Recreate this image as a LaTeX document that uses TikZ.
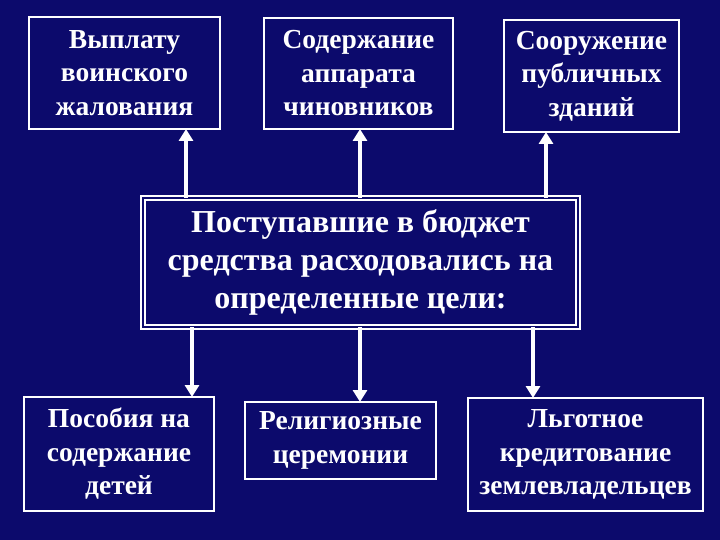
\documentclass[tikz,border=0pt]{standalone}
\usepackage{fontspec}
\setmainfont{Liberation Serif}
\usetikzlibrary{arrows.meta}
\definecolor{navy}{RGB}{12,10,108}
\tikzset{
  box/.style={draw=white, line width=2.6pt, fill=navy, text=white, align=center,
    font=\fontsize{27.5}{33.5}\selectfont\bfseries, inner sep=0pt, outer sep=0pt},
  mainbox/.style={draw=white, line width=1.6pt, double=navy, double distance=2.4pt,
    fill=navy, text=white, align=center,
    font=\fontsize{32}{38}\selectfont\bfseries, inner sep=0pt, outer sep=0pt},
  arr/.style={white, line width=4pt, -{Triangle[width=14pt,length=12pt]}}
}
\begin{document}
\begin{tikzpicture}[x=1pt,y=-1pt]
\fill[navy] (0,0) rectangle (720,540);
\useasboundingbox (0,0) rectangle (720,540);

\node[box, minimum width=191pt, minimum height=112pt] (t1) at (124.5,73) {Выплату\\воинского\\жалования};
\node[box, minimum width=189pt, minimum height=111pt] (t2) at (358.5,73.5) {Содержание\\аппарата\\чиновников};
\node[box, minimum width=175pt, minimum height=112pt] (t3) at (591.5,76) {Сооружение\\публичных\\зданий};

\node[mainbox, minimum width=435pt, minimum height=129pt] (c) at (360.5,262.5) {Поступавшие в бюджет\\средства расходовались на\\определенные цели:};

\node[box, minimum width=190pt, minimum height=114pt] (b1) at (119,454) {Пособия на\\содержание\\детей};
\node[box, minimum width=191pt, minimum height=77pt] (b2) at (340.5,440.5) {Религиозные\\церемонии};
\node[box, minimum width=235pt, minimum height=113pt] (b3) at (585.5,454.5) {Льготное\\кредитование\\землевладельцев};

\draw[arr] (c.north -| 186,0) -- (t1.south -| 186,0);
\draw[arr] (c.north -| 360,0) -- (t2.south -| 360,0);
\draw[arr] (c.north -| 546,0) -- (t3.south -| 546,0);
\draw[arr] (c.south -| 192,0) -- (b1.north -| 192,0);
\draw[arr] (c.south -| 360,0) -- (b2.north -| 360,0);
\draw[arr] (c.south -| 533,0) -- (b3.north -| 533,0);
\end{tikzpicture}
\end{document}
